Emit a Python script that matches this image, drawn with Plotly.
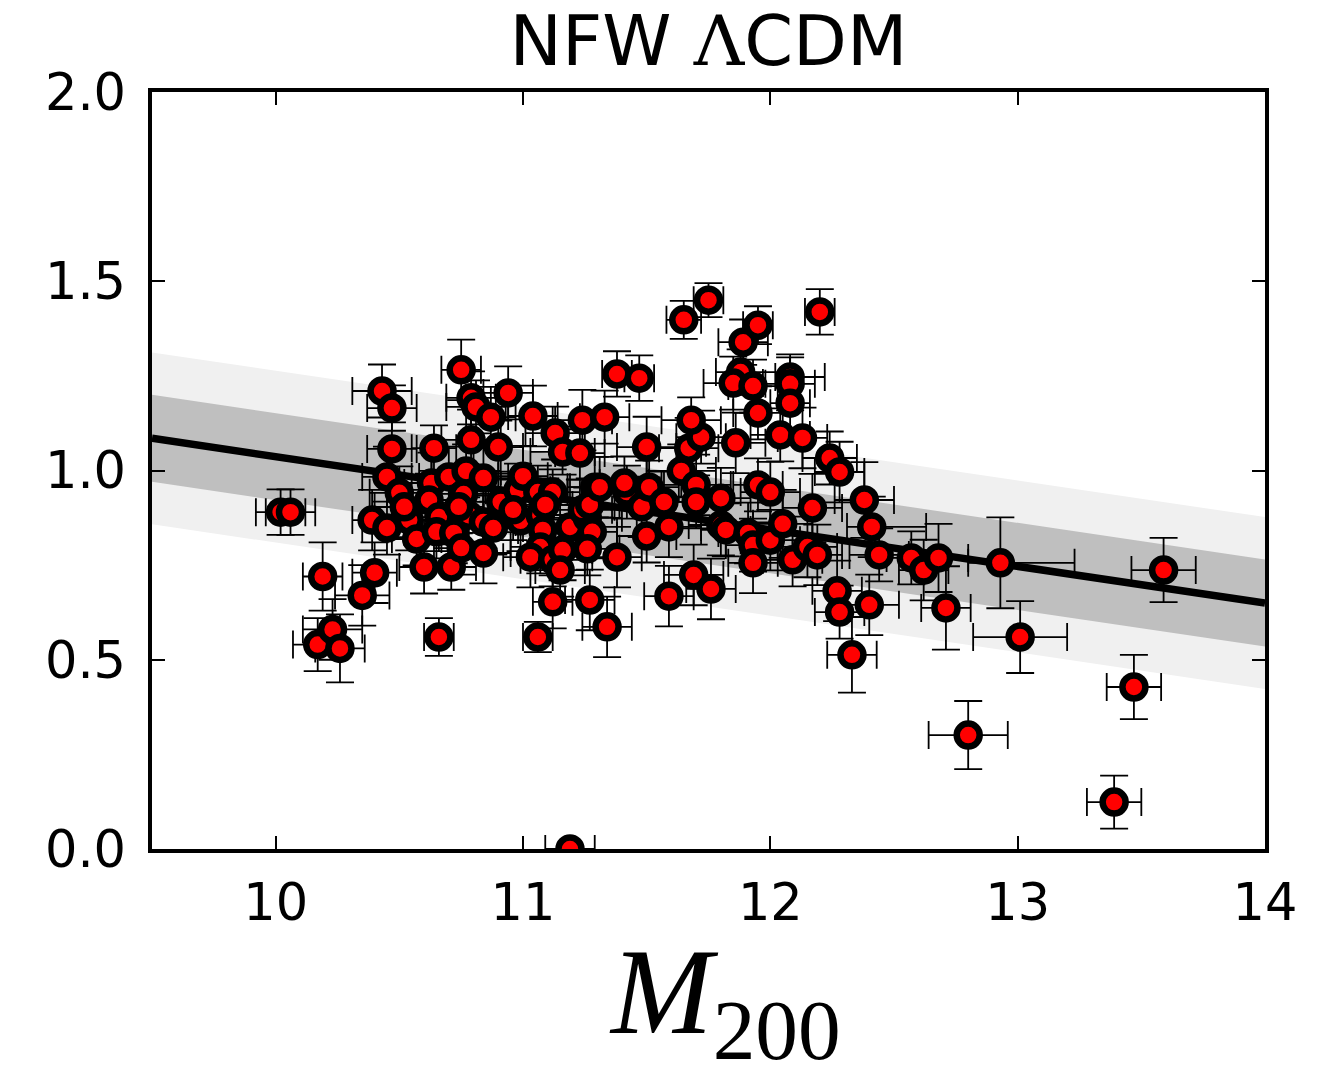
import plotly.graph_objects as go

# ---- data (log M200, ratio) ----
m200 = [
    10.02, 10.06, 10.19, 10.17, 10.23, 10.26, 10.35, 10.40, 10.66, 10.43,
    10.47, 10.47, 10.45, 10.50, 10.39, 10.45, 10.54, 10.57, 10.60, 10.64,
    10.63, 10.62, 10.66, 10.65, 10.72, 10.71, 10.75, 10.70, 10.77, 10.76,
    10.78, 10.84, 10.84, 10.84, 10.88, 10.75, 10.79, 10.81, 10.87, 10.94,
    10.79, 10.90, 10.91, 10.98, 11.00, 11.06, 11.12, 10.99, 11.07, 11.08,
    11.07, 11.03, 11.12, 11.16, 11.15, 11.04, 11.13, 11.16, 11.23, 11.24,
    11.33, 11.38, 11.47, 11.50, 11.19, 11.26, 11.28, 11.24, 11.26, 11.29,
    11.27, 11.38, 11.42, 11.48, 11.51, 11.57, 11.50, 11.59, 11.12, 11.27,
    11.34, 11.06, 11.19, 11.59, 11.69, 11.76, 11.64, 11.67, 11.72, 11.68,
    11.65, 11.75, 11.89, 11.95, 12.20, 11.88, 11.85, 11.93, 11.95, 11.86,
    12.08, 12.08, 12.08, 12.04, 12.13, 12.24, 12.28, 11.70, 11.70, 11.80,
    11.95, 12.00, 11.80, 11.82, 11.91, 11.93, 12.00, 12.05, 11.93, 12.09,
    12.15, 12.19, 12.17, 12.38, 12.41, 12.44, 12.57, 12.62, 12.68, 12.71,
    12.27, 12.28, 12.40, 12.33, 12.93, 13.01, 12.80, 13.47, 13.39, 13.59,
    11.31, 11.41, 10.96, 11.09, 10.52, 10.74,
]
ratio = [
    0.89, 0.89, 0.72, 0.54, 0.58, 0.53, 0.67, 0.73, 0.56, 1.21,
    1.165, 1.057, 0.983, 0.941, 0.869, 0.848, 0.869, 0.819, 0.745, 1.059,
    0.967, 0.922, 0.877, 0.838, 0.835, 0.745, 0.795, 0.983, 0.999, 0.938,
    0.882, 0.980, 0.864, 0.782, 0.848, 1.266, 1.192, 1.168, 1.141, 1.205,
    1.081, 1.062, 0.917, 0.948, 0.985, 0.943, 0.943, 0.867, 0.882, 0.843,
    0.798, 0.771, 0.764, 0.790, 0.737, 1.144, 1.099, 1.049, 1.046, 1.133,
    1.141, 1.255, 1.244, 1.062, 0.851, 0.875, 0.838, 0.896, 0.793, 0.956,
    0.909, 0.771, 0.943, 0.904, 0.956, 0.917, 0.827, 0.851, 0.653, 0.658,
    0.587, 0.560, 0.0, 0.668, 0.724, 0.687, 0.999, 1.059, 1.088, 1.133,
    1.398, 1.450, 1.339, 1.384, 1.419, 1.260, 1.231, 1.223, 1.152, 1.073,
    1.247, 1.229, 1.178, 1.094, 1.086, 1.033, 0.996, 0.962, 0.917, 0.927,
    0.962, 0.943, 0.856, 0.843, 0.835, 0.803, 0.816, 0.859, 0.756, 0.764,
    0.798, 0.777, 0.901, 0.922, 0.851, 0.777, 0.769, 0.737, 0.769, 0.637,
    0.682, 0.626, 0.645, 0.513, 0.756, 0.560, 0.301, 0.428, 0.124, 0.737,
    0.956, 0.967, 0.896, 0.909, 0.904, 0.904,
]
ratio_err = [
    0.06, 0.06, 0.09, 0.07, 0.08, 0.09, 0.08, 0.08, 0.05, 0.07,
    0.06, 0.07, 0.08, 0.07, 0.08, 0.07, 0.08, 0.07, 0.07, 0.06,
    0.08, 0.07, 0.09, 0.07, 0.08, 0.06, 0.07, 0.08, 0.07, 0.08,
    0.07, 0.08, 0.07, 0.08, 0.07, 0.08, 0.07, 0.07, 0.08, 0.07,
    0.08, 0.07, 0.08, 0.07, 0.08, 0.07, 0.06, 0.08, 0.07, 0.08,
    0.07, 0.08, 0.07, 0.08, 0.07, 0.08, 0.07, 0.06, 0.07, 0.08,
    0.07, 0.06, 0.06, 0.08, 0.07, 0.08, 0.07, 0.08, 0.07, 0.08,
    0.07, 0.08, 0.07, 0.08, 0.07, 0.08, 0.07, 0.08, 0.07, 0.08,
    0.08, 0.04, 0.0, 0.08, 0.08, 0.08, 0.07, 0.08, 0.07, 0.06,
    0.05, 0.045, 0.06, 0.05, 0.06, 0.06, 0.07, 0.07, 0.07, 0.08,
    0.06, 0.07, 0.07, 0.07, 0.08, 0.07, 0.08, 0.08, 0.07, 0.08,
    0.07, 0.08, 0.08, 0.07, 0.08, 0.07, 0.08, 0.09, 0.08, 0.07,
    0.08, 0.08, 0.09, 0.10, 0.08, 0.07, 0.07, 0.08, 0.09, 0.11,
    0.08, 0.07, 0.08, 0.10, 0.12, 0.095, 0.09, 0.085, 0.07, 0.085,
    0.08, 0.07, 0.08, 0.07, 0.08, 0.07,
]
m200_err_lo = [
    0.10, 0.10, 0.08, 0.10, 0.12, 0.10, 0.11, 0.09, 0.06, 0.12,
    0.10, 0.10, 0.10, 0.12, 0.08, 0.10, 0.12, 0.10, 0.10, 0.09,
    0.11, 0.12, 0.10, 0.13, 0.12, 0.10, 0.11, 0.12, 0.14, 0.10,
    0.12, 0.10, 0.13, 0.11, 0.12, 0.08, 0.10, 0.12, 0.10, 0.10,
    0.12, 0.10, 0.12, 0.13, 0.10, 0.12, 0.11, 0.13, 0.12, 0.10,
    0.12, 0.11, 0.13, 0.12, 0.10, 0.10, 0.12, 0.13, 0.10, 0.12,
    0.10, 0.06, 0.06, 0.12, 0.12, 0.14, 0.10, 0.12, 0.13, 0.11,
    0.12, 0.10, 0.13, 0.11, 0.12, 0.10, 0.12, 0.13, 0.08, 0.10,
    0.10, 0.06, 0.10, 0.10, 0.12, 0.10, 0.14, 0.12, 0.10, 0.12,
    0.07, 0.06, 0.10, 0.06, 0.06, 0.10, 0.12, 0.10, 0.10, 0.12,
    0.06, 0.10, 0.08, 0.12, 0.10, 0.11, 0.10, 0.14, 0.12, 0.12,
    0.10, 0.12, 0.13, 0.10, 0.12, 0.11, 0.12, 0.12, 0.10, 0.12,
    0.12, 0.10, 0.12, 0.12, 0.10, 0.12, 0.10, 0.10, 0.12, 0.10,
    0.10, 0.10, 0.12, 0.10, 0.13, 0.19, 0.16, 0.11, 0.11, 0.13,
    0.12, 0.10, 0.12, 0.11, 0.12, 0.10,
]
m200_err_hi = [
    0.10, 0.10, 0.08, 0.10, 0.12, 0.10, 0.11, 0.09, 0.06, 0.12,
    0.10, 0.10, 0.10, 0.12, 0.08, 0.10, 0.12, 0.10, 0.10, 0.09,
    0.11, 0.12, 0.10, 0.13, 0.12, 0.10, 0.11, 0.12, 0.14, 0.10,
    0.12, 0.10, 0.13, 0.11, 0.12, 0.08, 0.10, 0.12, 0.10, 0.10,
    0.12, 0.10, 0.12, 0.13, 0.10, 0.12, 0.11, 0.13, 0.12, 0.10,
    0.12, 0.11, 0.13, 0.12, 0.10, 0.10, 0.12, 0.13, 0.10, 0.12,
    0.10, 0.06, 0.06, 0.12, 0.12, 0.14, 0.10, 0.12, 0.13, 0.11,
    0.12, 0.10, 0.13, 0.11, 0.12, 0.10, 0.12, 0.13, 0.08, 0.10,
    0.10, 0.06, 0.10, 0.10, 0.12, 0.10, 0.14, 0.12, 0.10, 0.12,
    0.07, 0.06, 0.10, 0.06, 0.06, 0.20, 0.12, 0.10, 0.10, 0.12,
    0.14, 0.10, 0.08, 0.12, 0.10, 0.11, 0.10, 0.14, 0.12, 0.12,
    0.10, 0.12, 0.13, 0.10, 0.12, 0.11, 0.12, 0.12, 0.10, 0.12,
    0.12, 0.10, 0.12, 0.12, 0.22, 0.12, 0.10, 0.10, 0.12, 0.10,
    0.10, 0.10, 0.12, 0.10, 0.30, 0.19, 0.16, 0.11, 0.11, 0.13,
    0.12, 0.10, 0.12, 0.11, 0.12, 0.10,
]

# ---- best-fit relation and scatter bands ----
fit_x = [9.5, 14.0]
fit_y = [1.085, 0.650]
band_inner = 0.115
band_outer = 0.227

fig = go.Figure()

def band(width, color):
    up = [v + width for v in fit_y]
    lo = [v - width for v in fit_y]
    fig.add_trace(go.Scatter(x=fit_x, y=up, mode="lines", line=dict(width=0, color=color),
                             hoverinfo="skip", showlegend=False))
    fig.add_trace(go.Scatter(x=fit_x, y=lo, mode="lines", line=dict(width=0, color=color),
                             fill="tonexty", fillcolor=color, hoverinfo="skip", showlegend=False))

band(band_outer, "#f0f0f0")
band(band_inner, "#bfbfbf")
fig.add_trace(go.Scatter(x=fit_x, y=fit_y, mode="lines", line=dict(color="black", width=7.5),
                         showlegend=False, hoverinfo="skip"))

fig.add_trace(go.Scatter(
    x=m200, y=ratio, mode="markers",
    marker=dict(size=23, color="#ff0000", line=dict(color="black", width=6.5)),
    error_y=dict(type="data", array=ratio_err, symmetric=True, color="black", thickness=1.8, width=14),
    error_x=dict(type="data", array=m200_err_hi, arrayminus=m200_err_lo, symmetric=False,
                 color="black", thickness=1.8, width=14),
    showlegend=False,
))

axis_common = dict(
    showgrid=False, zeroline=False, showline=True, linecolor="black", linewidth=3.5,
    mirror="allticks", ticks="inside", ticklen=13, tickwidth=1.5, tickcolor="black",
    tickfont=dict(family="DejaVu Sans", size=51, color="black"),
)

fig.update_layout(
    width=1327, height=1075,
    margin=dict(l=152, r=62, t=92, b=226),
    paper_bgcolor="white", plot_bgcolor="white",
    title=dict(text='NFW <span style="font-family:DejaVu Serif">Λ</span>CDM',
               font=dict(family="DejaVu Sans", size=70, color="black"),
               x=0.5, xanchor="center", xref="paper", y=0.962, yanchor="middle"),
    xaxis=dict(range=[9.5, 14], tickvals=[10, 11, 12, 13, 14], ticklabelstandoff=6,
               **axis_common),
    yaxis=dict(range=[0, 2], tickvals=[0, 0.5, 1.0, 1.5, 2.0], tickformat=".1f",
               ticklabelstandoff=12, **axis_common),
    annotations=[dict(text="<i>M</i><sub>200</sub>", xref="paper", yref="paper",
                      x=0.515, y=-0.097, xanchor="center", yanchor="top", showarrow=False,
                      font=dict(family="Liberation Serif", size=122, color="black"))],
)

fig.write_html("out.html")
